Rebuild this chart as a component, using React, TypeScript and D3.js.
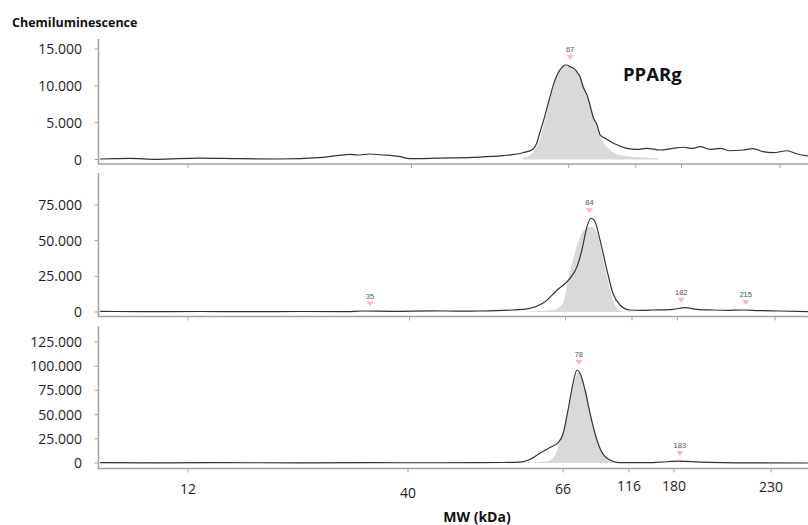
import React, { useEffect, useRef } from "react";
import * as d3 from "d3";

// MW axis ticks (kDa)
const mwTicks = [12, 40, 66, 116, 180, 230];

// Panel 1 (PPARg, top)
const trace1: [number, number][] = [
  [0.97, 70], [4.7, 160], [8.1, 30], [13.5, 200], [18.5, 110], [23.2, 70],
  [28.9, 300], [32.3, 700], [33.2, 610], [34.8, 750], [36.4, 610], [37.3, 570],
  [38.6, 380], [39.8, 110], [44.7, 200], [50.2, 300], [55.1, 520], [58.4, 920],
  [60.1, 1400], [60.7, 2200], [61.2, 3600], [61.7, 4900], [62.4, 7000],
  [62.9, 8500], [63.4, 10000], [64.2, 11700], [64.9, 12550], [65.4, 12830],
  [65.7, 12830], [66.9, 12600], [70.6, 12240], [72.1, 11900], [74.4, 11240],
  [76.6, 9900], [79.6, 8750], [81.8, 7400], [84.1, 5800], [87.1, 4680],
  [89.4, 3320], [90.8, 3100], [93.1, 2880], [99.0, 2240], [109.4, 1520],
  [117.7, 1380], [131.7, 1520], [149.9, 1290], [168.1, 1520], [180.8, 1660],
  [185.8, 1520], [189.4, 1740], [194.5, 1380], [199.6, 1520], [204.6, 1190],
  [211.2, 1290], [216.3, 1470], [221.4, 1060], [226.5, 920], [233.6, 1190],
  [238.7, 750], [244.2, 480],
];
const fit1: [number, number][] = [
  [58.4, 200], [60.1, 1000], [61.2, 2650], [62.4, 6450], [63.4, 9700],
  [64.5, 12150], [65.5, 12700], [68.4, 12400], [74.4, 11330], [80.3, 8350],
  [85.6, 5100], [90.8, 2650], [96.8, 1290], [104.2, 610], [115.4, 340], [147, 200],
];
const markers1 = [{ mw: 67, value: 12830 }];
const yTicks1 = [0, 5000, 10000, 15000];

// Panel 2 (middle)
const trace2: [number, number][] = [
  [0.9, 400], [6, 300], [13.5, 350], [20, 250], [26.2, 350], [32, 300],
  [34.1, 700], [38, 500], [43.9, 800], [48, 600], [51.7, 700], [57.2, 1400],
  [60.0, 2600], [62.2, 6100], [64.6, 15400], [69.3, 23600], [74.6, 31800],
  [78.3, 43500], [82.1, 59800], [85.1, 65700], [88.1, 63300], [91.9, 50500],
  [97.1, 29400], [101.6, 13100], [106.9, 4900], [114.4, 1400], [130, 1200],
  [145.5, 1400], [173.8, 1900], [183.9, 3000], [190, 1900], [198.2, 1400],
  [206, 1200], [213.6, 1400], [222, 1000], [232.6, 700], [246.9, 200],
];
const fit2: [number, number][] = [
  [59.5, 200], [64.0, 1500], [65.6, 6300], [67.8, 22400], [73.0, 41400],
  [78.3, 55400], [82.1, 58900], [85.8, 59800], [89.6, 55400], [93.4, 41400],
  [97.1, 24700], [100.9, 10700], [104.7, 2600], [109.2, 300], [127, 200],
];
const markers2 = [
  { mw: 35, value: 300 },
  { mw: 84, value: 65700 },
  { mw: 182, value: 3000 },
  { mw: 215, value: 1400 },
];
const yTicks2 = [0, 25000, 50000, 75000];

// Panel 3 (bottom)
const trace3: [number, number][] = [
  [0.8, 300], [8, 200], [15, 300], [26.3, 200], [35, 300], [45, 250],
  [52.1, 300], [56, 500], [58.8, 900], [60.5, 3800], [62.1, 10000],
  [63.8, 16000], [65.2, 21000], [66, 30000], [69.8, 54700], [73.6, 82300],
  [76.6, 96100], [78.9, 92700], [82.7, 75400], [86.5, 51300], [90.2, 30700],
  [94.0, 15200], [99.3, 4800], [109.2, 300], [141.6, 300], [170, 1300],
  [183.1, 2000], [193.4, 1000], [217.5, 100], [249, 0],
];
const fit3: [number, number][] = [
  [58.8, 250], [63.5, 2000], [64.7, 8300], [65.5, 21700], [67.5, 39300],
  [71.3, 63000], [75.1, 85700], [77.3, 94000], [80.3, 87800], [83.4, 73300],
  [86.5, 51600], [90.2, 31000], [94, 15500], [98.5, 5200], [103.1, 1000],
  [117.4, 250],
];
const markers3 = [
  { mw: 78, value: 96100 },
  { mw: 183, value: 2000 },
];
const yTicks3 = [0, 25000, 50000, 75000, 100000, 125000];

// layout
const W = 808;
const H = 525;
const AXIS_X = 98.5;
const tickX = [188, 408, 563, 629, 674, 771];
const tickLabelDy = [0, 4, 0, -3, -3, -2];
const FONT = "'Open Sans', 'Liberation Sans', sans-serif";

const panels = [
  { trace: trace1, fit: fit1, markers: markers1, yTicks: yTicks1, top: 39, zeroY: 159.5, maxY: 49, axisY: 164, stretch: 1.0154 },
  { trace: trace2, fit: fit2, markers: markers2, yTicks: yTicks2, top: 173, zeroY: 312, maxY: 205, axisY: 316.5, stretch: 1.0069 },
  { trace: trace3, fit: fit3, markers: markers3, yTicks: yTicks3, top: 326, zeroY: 463, maxY: 342, axisY: 468.5, stretch: 1 },
];

const fmt = d3
  .formatLocale({ decimal: ",", thousands: ".", grouping: [3], currency: ["", ""] })
  .format(",");

export default function App() {
  const svgRef = useRef<SVGSVGElement>(null);

  useEffect(() => {
    const svg = d3.select(svgRef.current);
    svg.selectAll("*").remove();

    panels.forEach((p, i) => {
      const x = d3
        .scaleLinear()
        .domain(mwTicks)
        .range(tickX.map((t) => tickX[0] + (t - tickX[0]) * p.stretch));
      const y = d3
        .scaleLinear()
        .domain([0, p.yTicks[p.yTicks.length - 1]])
        .range([p.zeroY, p.maxY]);

      const g = svg.append("g");

      // fitted peak
      const area = d3
        .area<[number, number]>()
        .x((d) => x(d[0]))
        .y0(y(0))
        .y1((d) => y(d[1]))
        .curve(d3.curveMonotoneX);
      g.append("path").attr("d", area(p.fit)).attr("fill", "#d9d9d9");

      // trace
      const line = d3
        .line<[number, number]>()
        .x((d) => x(d[0]))
        .y((d) => y(d[1]))
        .curve(d3.curveMonotoneX);
      g.append("path")
        .attr("d", line(p.trace))
        .attr("fill", "none")
        .attr("stroke", "#333")
        .attr("stroke-width", 1.2);

      // y axis
      g.append("line")
        .attr("x1", AXIS_X).attr("x2", AXIS_X)
        .attr("y1", p.top).attr("y2", p.axisY)
        .attr("stroke", "#a0a0a0").attr("stroke-width", 1.5);
      p.yTicks.forEach((t) => {
        g.append("line")
          .attr("x1", AXIS_X - 4).attr("x2", AXIS_X)
          .attr("y1", y(t)).attr("y2", y(t))
          .attr("stroke", "#a0a0a0").attr("stroke-width", 1);
        g.append("text")
          .attr("x", 82)
          .attr("y", y(t))
          .attr("dy", "0.36em")
          .attr("text-anchor", "end")
          .attr("font-family", FONT)
          .attr("font-size", 14)
          .attr("fill", "#1e1e1e")
          .text(fmt(t));
      });

      // x axis
      g.append("line")
        .attr("x1", AXIS_X - 0.75).attr("x2", W)
        .attr("y1", p.axisY).attr("y2", p.axisY)
        .attr("stroke", "#a0a0a0").attr("stroke-width", 1.5);
      mwTicks.forEach((t, k) => {
        g.append("line")
          .attr("x1", x(t)).attr("x2", x(t))
          .attr("y1", p.axisY).attr("y2", p.axisY + 4)
          .attr("stroke", "#a0a0a0").attr("stroke-width", 1);
        if (i === panels.length - 1) {
          g.append("text")
            .attr("x", x(t))
            .attr("y", p.axisY + 25 + tickLabelDy[k])
            .attr("text-anchor", "middle")
            .attr("font-family", FONT)
            .attr("font-size", 14)
            .attr("fill", "#1e1e1e")
            .text(t);
        }
      });

      // peak markers
      p.markers.forEach((m) => {
        const mx = x(m.mw);
        const tip = y(m.value) - 5;
        g.append("path")
          .attr("d", `M${mx - 3.5},${tip - 5}L${mx + 3.5},${tip - 5}L${mx},${tip}Z`)
          .attr("fill", "#ffb3bd");
        g.append("text")
          .attr("x", mx)
          .attr("y", tip - 8)
          .attr("text-anchor", "middle")
          .attr("font-family", "'Liberation Sans', Arial, sans-serif")
          .attr("font-size", 7.5)
          .attr("fill", "#555")
          .text(m.mw);
      });
    });

    svg.append("text")
      .attr("x", 12).attr("y", 27)
      .attr("font-family", FONT).attr("font-weight", "bold")
      .attr("font-size", 12.5).attr("fill", "#111")
      .text("Chemiluminescence");

    svg.append("text")
      .attr("x", 623).attr("y", 80.5)
      .attr("font-family", FONT).attr("font-weight", "bold")
      .attr("font-size", 18.5).attr("fill", "#111")
      .text("PPARg");

    svg.append("text")
      .attr("x", 477).attr("y", 522)
      .attr("text-anchor", "middle")
      .attr("font-family", FONT).attr("font-weight", "bold")
      .attr("font-size", 14).attr("fill", "#111")
      .text("MW (kDa)");
  }, []);

  return (
    <svg
      ref={svgRef}
      width={W}
      height={H}
      style={{ position: "absolute", left: 0, top: 0, background: "#fff" }}
    />
  );
}
